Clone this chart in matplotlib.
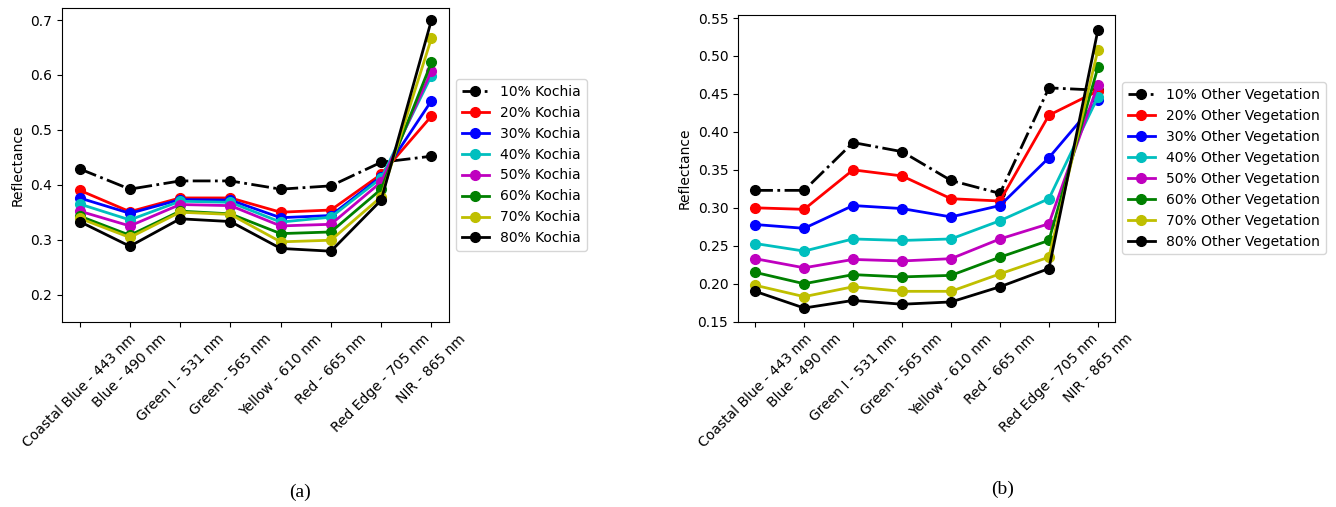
import matplotlib
matplotlib.use('Agg')
import matplotlib.pyplot as plt

bands = ['Coastal Blue - 443 nm', 'Blue - 490 nm', 'Green I - 531 nm', 'Green - 565 nm',
         'Yellow - 610 nm', 'Red - 665 nm', 'Red Edge - 705 nm', 'NIR - 865 nm']
pcts = ['10%', '20%', '30%', '40%', '50%', '60%', '70%', '80%']
colors = ['k', 'r', 'b', 'c', 'm', 'g', 'y', 'k']

# (a) Kochia mixtures
kochia_10 = [0.429, 0.392, 0.407, 0.407, 0.392, 0.398, 0.441, 0.452]
kochia_20 = [0.390, 0.351, 0.376, 0.376, 0.350, 0.354, 0.419, 0.525]
kochia_30 = [0.376, 0.348, 0.373, 0.372, 0.340, 0.344, 0.415, 0.553]
kochia_40 = [0.365, 0.336, 0.370, 0.368, 0.332, 0.341, 0.412, 0.599]
kochia_50 = [0.352, 0.325, 0.364, 0.362, 0.325, 0.328, 0.405, 0.607]
kochia_60 = [0.343, 0.308, 0.352, 0.347, 0.311, 0.314, 0.392, 0.623]
kochia_70 = [0.339, 0.304, 0.350, 0.346, 0.296, 0.299, 0.378, 0.667]
kochia_80 = [0.333, 0.288, 0.338, 0.333, 0.284, 0.279, 0.372, 0.700]

# (b) other vegetation mixtures
other_10 = [0.323, 0.323, 0.386, 0.374, 0.336, 0.319, 0.458, 0.455]
other_20 = [0.300, 0.298, 0.350, 0.342, 0.312, 0.309, 0.422, 0.454]
other_30 = [0.278, 0.273, 0.303, 0.299, 0.288, 0.303, 0.366, 0.442]
other_40 = [0.253, 0.243, 0.259, 0.257, 0.259, 0.283, 0.312, 0.446]
other_50 = [0.233, 0.221, 0.232, 0.230, 0.233, 0.259, 0.279, 0.462]
other_60 = [0.215, 0.200, 0.212, 0.209, 0.211, 0.235, 0.257, 0.485]
other_70 = [0.198, 0.183, 0.196, 0.190, 0.190, 0.213, 0.235, 0.508]
other_80 = [0.190, 0.168, 0.178, 0.173, 0.176, 0.196, 0.220, 0.534]

kochia = [kochia_10, kochia_20, kochia_30, kochia_40, kochia_50, kochia_60, kochia_70, kochia_80]
other = [other_10, other_20, other_30, other_40, other_50, other_60, other_70, other_80]

fig = plt.figure(figsize=(13.36, 5.07), dpi=100, facecolor='w')
ax1 = fig.add_axes([0.0464, 0.3649, 0.2897, 0.6193])
ax2 = fig.add_axes([0.5524, 0.3655, 0.2822, 0.6049])


def draw(ax, series, name, ylim):
    for i, vals in enumerate(series):
        ls = '-.' if i == 0 else '-'
        ax.plot(bands, vals, ls, color=colors[i], marker='o', ms=7, lw=2,
                label='%s %s' % (pcts[i], name))
    ax.set_ylim(ylim)
    ax.set_ylabel('Reflectance', fontsize=10)
    ax.tick_params(axis='x', labelrotation=45, labelsize=10)
    ax.tick_params(axis='y', labelsize=10)
    for t in ax.get_xticklabels():
        t.set_ha('center')
    ax.legend(loc='center left', bbox_to_anchor=(1.0, 0.5), fontsize=10)


draw(ax1, kochia, 'Kochia', (0.15, 0.722))
draw(ax2, other, 'Other Vegetation', (0.15, 0.554))

fig.text(300 / 1336, 1 - 492 / 507, '(a)', ha='center', va='center',
         family='Liberation Serif', fontsize=14)
fig.text(1003 / 1336, 1 - 489 / 507, '(b)', ha='center', va='center',
         family='Liberation Serif', fontsize=14)

fig.savefig('out.png', dpi=100)
